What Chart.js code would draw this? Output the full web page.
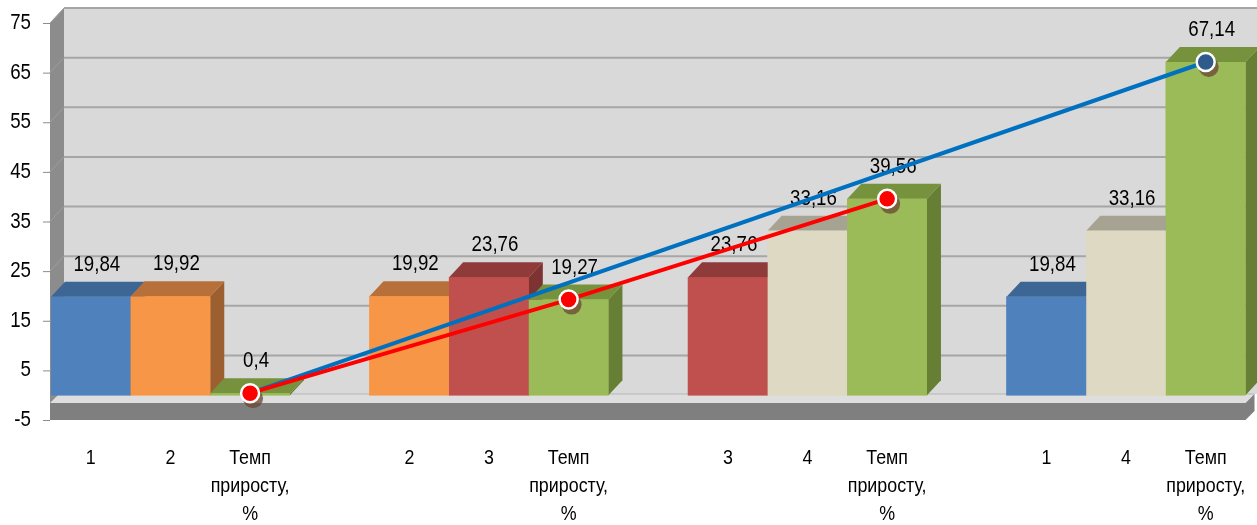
<!DOCTYPE html>
<html>
<head>
<meta charset="utf-8">
<script src="https://cdn.jsdelivr.net/npm/chart.js@4/dist/chart.umd.min.js"></script>
<style>
  html, body { margin: 0; padding: 0; background: #fff; }
  canvas { display: block; }
</style>
</head>
<body>
<canvas id="c" width="1257" height="525"></canvas>
<script>
const TEMP = ['Темп', 'приросту,', '%'];
const categories = ['1', '2', TEMP, '', '2', '3', TEMP, '', '3', '4', TEMP, '', '1', '4', TEMP];
const barSeries = ['s1', 's2', 'g', null, 's2', 's3', 'g', null, 's3', 's4', 'g', null, 's1', 's4', 'g'];
const barValues = [19.84, 19.92, 0.4, null, 19.92, 23.76, 19.27, null, 23.76, 33.16, 39.56, null, 19.84, 33.16, 67.14];
const redLine = [null, null, 0.4, null, null, null, 19.27, null, null, null, 39.56, null, null, null, null];
const blueLine = [null, null, 0.4, null, null, null, null, null, null, null, null, null, null, null, 67.14];
const yTicks = [-5, 5, 15, 25, 35, 45, 55, 65, 75];

// front / top / side colours of each series
const palette = {
  s1: ['#4f81bd', '#3e6694', '#395d88'],
  s2: ['#f79646', '#b8703a', '#9c5f2f'],
  s3: ['#c0504d', '#8e3b39', '#7d3331'],
  s4: ['#ddd9c3', '#a6a392', '#928f80'],
  g:  ['#9bbb59', '#76923c', '#677f35']
};

const FONT = "'Liberation Sans', Arial, sans-serif";
const NARROW = 0.85; // squeeze to look like Arial Narrow
const DX = 14, DY = 15;

function narrowText(ctx, s, x, y, align) {
  ctx.save();
  ctx.translate(x, y);
  ctx.scale(NARROW, 1);
  ctx.textAlign = align;
  ctx.fillText(s, 0, 0);
  ctx.restore();
}

const scene3d = {
  id: 'scene3d',
  beforeDatasetsDraw(chart) {
    const { ctx, chartArea, width } = chart;
    const y = chart.scales.y;
    const L = chartArea.left - 1, R = chartArea.right;
    const yTop = y.getPixelForValue(75), yBot = y.getPixelForValue(-5);
    const fy = yBot - 17;
    ctx.save();
    // back wall
    ctx.fillStyle = '#d9d9d9';
    ctx.fillRect(L + DX, yTop - DY, width, fy - 9 - (yTop - DY));
    ctx.strokeStyle = '#a6a6a6';
    ctx.lineWidth = 2;
    yTicks.forEach(t => {
      const py = y.getPixelForValue(t) - DY;
      if (py > fy - 9) return;
      ctx.beginPath(); ctx.moveTo(L + DX, py); ctx.lineTo(width, py); ctx.stroke();
    });
    // side wall
    ctx.fillStyle = '#8c8c8c';
    ctx.beginPath();
    ctx.moveTo(L, yTop); ctx.lineTo(L + DX, yTop - DY); ctx.lineTo(L + DX, yBot - DY); ctx.lineTo(L, yBot);
    ctx.closePath(); ctx.fill();
    ctx.strokeStyle = '#9e9e9e'; ctx.lineWidth = 1;
    yTicks.forEach(t => {
      const py = y.getPixelForValue(t);
      ctx.beginPath(); ctx.moveTo(L, py); ctx.lineTo(L + DX, py - DY); ctx.stroke();
    });
    // floor top
    ctx.fillStyle = '#dedede';
    ctx.beginPath();
    ctx.moveTo(L, fy); ctx.lineTo(L + 9, fy - 9); ctx.lineTo(R + 9, fy - 9); ctx.lineTo(R, fy);
    ctx.closePath(); ctx.fill();
    ctx.strokeStyle = '#b5b5b5';
    ctx.beginPath(); ctx.moveTo(L + DX, fy - 9); ctx.lineTo(R + 9, fy - 9); ctx.stroke();
    // floor front
    ctx.fillStyle = '#7f7f7f';
    ctx.beginPath();
    ctx.moveTo(L, fy); ctx.lineTo(R, fy); ctx.lineTo(R + 9, fy - 9); ctx.lineTo(R + 9, yBot - 9);
    ctx.lineTo(R, yBot); ctx.lineTo(L, yBot);
    ctx.closePath(); ctx.fill();
    ctx.restore();
  },
  afterDatasetDraw(chart, args) {
    if (args.index !== 0) return;
    const { ctx } = chart;
    const meta = chart.getDatasetMeta(0);
    ctx.save();
    meta.data.forEach((el, i) => {
      const v = barValues[i];
      if (v === null) return;
      const [front, top, side] = palette[barSeries[i]];
      const x1 = el.x - el.width / 2, x2 = el.x + el.width / 2;
      const yt = el.y, yb = el.base;
      ctx.fillStyle = side;
      ctx.beginPath();
      ctx.moveTo(x2, yt); ctx.lineTo(x2 + DX, yt - DY); ctx.lineTo(x2 + DX, yb - DY); ctx.lineTo(x2, yb);
      ctx.closePath(); ctx.fill();
      ctx.fillStyle = top;
      ctx.beginPath();
      ctx.moveTo(x1, yt); ctx.lineTo(x1 + DX, yt - DY); ctx.lineTo(x2 + DX, yt - DY); ctx.lineTo(x2, yt);
      ctx.closePath(); ctx.fill();
      ctx.fillStyle = front;
      ctx.fillRect(x1, yt, x2 - x1, yb - yt);
    });
    // value labels
    ctx.fillStyle = '#000';
    ctx.font = '22px ' + FONT;
    ctx.textBaseline = 'middle';
    meta.data.forEach((el, i) => {
      const v = barValues[i];
      if (v === null) return;
      narrowText(ctx, String(v).replace('.', ','), el.x + 6, el.y - DY - 17, 'center');
    });
    // marker shadows
    ctx.fillStyle = 'rgba(105, 70, 50, 0.75)';
    [1, 2].forEach(di => {
      const m = chart.getDatasetMeta(di);
      const d = chart.data.datasets[di].data;
      m.data.forEach((p, i) => {
        if (d[i] === null) return;
        if (di === 1 && i !== 14) return;
        ctx.beginPath(); ctx.arc(p.x + 3, p.y + 5, 10, 0, Math.PI * 2); ctx.fill();
      });
    });
    ctx.restore();
  },
  afterDraw(chart) {
    const { ctx, chartArea } = chart;
    const x = chart.scales.x, y = chart.scales.y;
    const L = chartArea.left - 1;
    ctx.save();
    ctx.fillStyle = '#000';
    ctx.textBaseline = 'middle';
    // y ticks
    ctx.font = '22px ' + FONT;
    ctx.strokeStyle = '#8c8c8c'; ctx.lineWidth = 1;
    yTicks.forEach(t => {
      const py = y.getPixelForValue(t);
      ctx.beginPath(); ctx.moveTo(L - 7, py + 0.5); ctx.lineTo(L, py + 0.5); ctx.stroke();
      narrowText(ctx, String(t), 31, py, 'right');
    });
    // x labels
    ctx.font = '21px ' + FONT;
    categories.forEach((c, i) => {
      const lines = Array.isArray(c) ? c : [c];
      const px = x.getPixelForValue(i);
      lines.forEach((s, k) => narrowText(ctx, s, px, chartArea.bottom + 38 + k * 28, 'center'));
    });
    ctx.restore();
  }
};

new Chart(document.getElementById('c'), {
  data: {
    labels: categories,
    datasets: [
      {
        type: 'bar', order: 2, data: barValues,
        backgroundColor: barSeries.map(s => s ? palette[s][0] : 'transparent'),
        categoryPercentage: 1, barPercentage: 1
      },
      {
        type: 'line', order: 1, data: blueLine, spanGaps: true,
        borderColor: '#0070c0', borderWidth: 4, tension: 0,
        pointRadius: c => c.dataIndex === 14 ? 9 : 0,
        pointBackgroundColor: '#2e5a8c', pointBorderColor: '#fff', pointBorderWidth: 2.5
      },
      {
        type: 'line', order: 0, data: redLine, spanGaps: true,
        borderColor: '#ff0000', borderWidth: 4, tension: 0,
        pointRadius: 9,
        pointBackgroundColor: '#ff0000', pointBorderColor: '#fff', pointBorderWidth: 2.5
      }
    ]
  },
  options: {
    responsive: false,
    animation: false,
    layout: { padding: { top: 23, right: 9, left: 0, bottom: 0 } },
    plugins: { legend: { display: false }, tooltip: { enabled: false } },
    scales: {
      x: {
        grid: { display: false, drawTicks: false },
        border: { display: false },
        ticks: { display: false },
        afterFit: s => { s.height = 105; }
      },
      y: {
        min: -5, max: 75,
        grid: { display: false, drawTicks: false },
        border: { display: false },
        ticks: { display: false, stepSize: 10 },
        afterFit: s => { s.width = 51; }
      }
    }
  },
  plugins: [scene3d]
});
</script>
</body>
</html>
